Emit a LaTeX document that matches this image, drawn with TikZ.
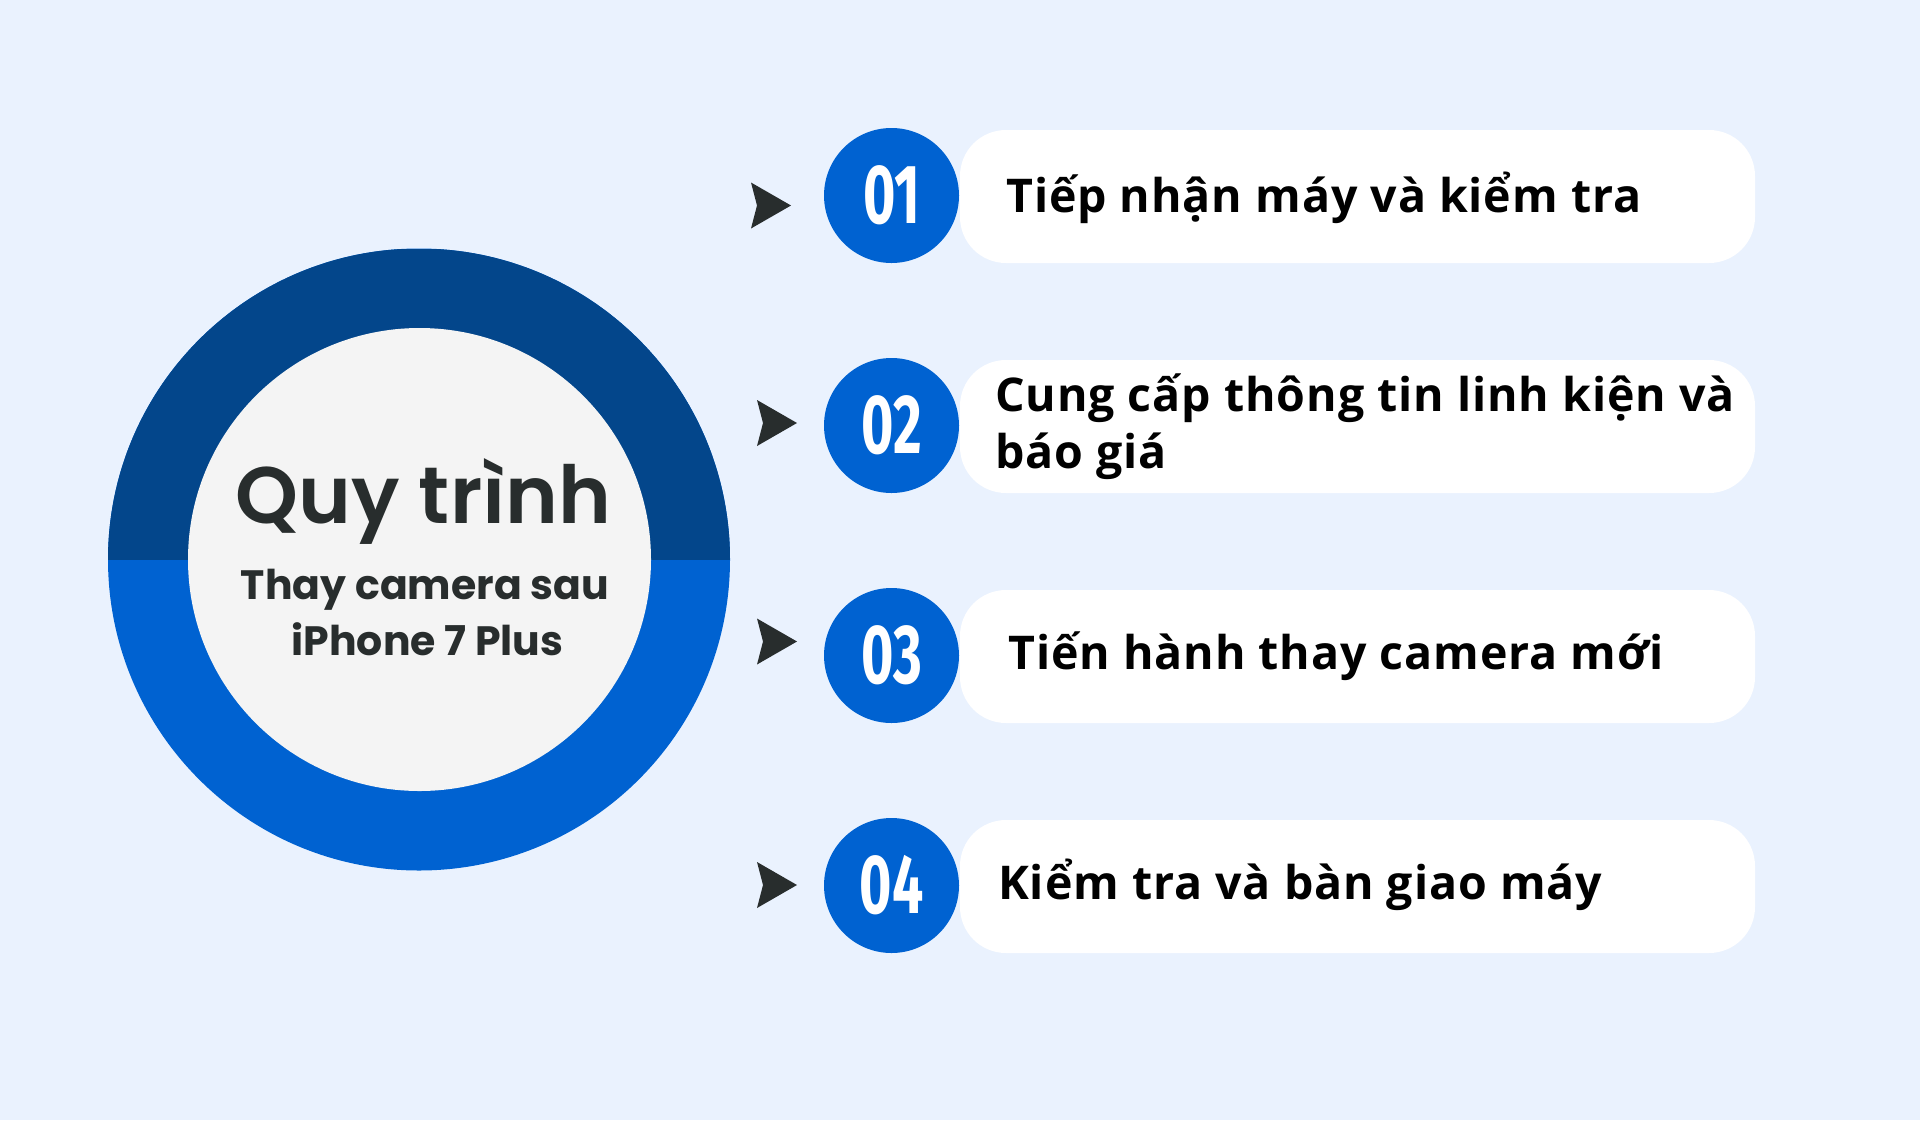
\documentclass[tikz,border=0pt]{standalone}
\usepackage{fontspec}
\usepackage{graphicx}
\IfFontExistsTF{Poppins SemiBold}{\newfontfamily\titlef{Poppins SemiBold}}{\newfontfamily\titlefam{Poppins}\newcommand\titlef{\titlefam\bfseries}}
\IfFontExistsTF{Poppins Bold}{\newfontfamily\subf{Poppins Bold}}{\newfontfamily\subfam{Poppins}\newcommand\subf{\subfam\bfseries}}
\IfFontExistsTF{Open Sans SemiBold}{\newfontfamily\stepf{Open Sans SemiBold}[LetterSpace=2]}{\newfontfamily\stepfam{Open Sans}[LetterSpace=2]\newcommand\stepf{\stepfam\bfseries}}
\newfontfamily\numfam{Fira Sans}
\definecolor{bgc}{HTML}{EAF2FE}
\definecolor{ringtop}{HTML}{03468B}
\definecolor{ringlow}{HTML}{0062D1}
\definecolor{innerc}{HTML}{F4F4F4}
\definecolor{titlec}{HTML}{282D2D}
\definecolor{arrowc}{HTML}{282D2D}
\definecolor{stepc}{HTML}{0062D1}
\newcommand\numtxt[1]{\scalebox{0.66}[1]{#1}}
\begin{document}
\begin{tikzpicture}[x=1pt,y=-1pt,
  pill/.style={rectangle, rounded corners=46pt, fill=white, minimum width=795pt, minimum height=133pt, inner sep=0pt},
  numc/.style={circle, fill=stepc, minimum size=135pt, inner sep=0pt, text=white, font=\numfam\bfseries\fontsize{84}{84}\selectfont},
  steptxt/.style={anchor=base west, inner sep=0pt, text=black, font=\stepf\fontsize{46.5}{56}\selectfont},
  titletxt/.style={anchor=base, inner sep=0pt, text=titlec},
  chev/.style={fill=arrowc}]
\fill[bgc] (0,0) rectangle (1920,1120);
\path[use as bounding box] (0,0) rectangle (1920,1120);

% central circle
\node[circle, minimum size=622pt, inner sep=0pt, fill=ringlow,
  path picture={\fill[ringtop] (path picture bounding box.north west) rectangle (path picture bounding box.east);}] (outer) at (419,559.5) {};
\node[circle, minimum size=463pt, inner sep=0pt, fill=innerc] (inner) at (419.5,559.5) {};
\node[titletxt, font=\titlef\fontsize{80}{80}\selectfont] (title) at (423.5,523) {Quy trình};
\node[titletxt, font=\subf\fontsize{41}{41}\selectfont] (sub1) at (425,599) {Thay camera sau};
\node[titletxt, font=\subf\fontsize{41}{41}\selectfont] (sub2) at (427.5,655.5) {iPhone 7 Plus};

% pills
\node[pill] (p1) at (1357.5,196.5) {};
\node[pill] (p2) at (1357.5,426.5) {};
\node[pill] (p3) at (1357.5,656.5) {};
\node[pill] (p4) at (1357.5,886.5) {};

% number circles
\node[numc] (n1) at (891.5,195.5) {\numtxt{01}};
\node[numc] (n2) at (891.5,425.5) {\numtxt{02}};
\node[numc] (n3) at (891.5,655.5) {\numtxt{03}};
\node[numc] (n4) at (891.5,885.5) {\numtxt{04}};

% arrows
\coordinate (a1) at (791,205.5);
\coordinate (a2) at (797,423);
\coordinate (a3) at (797,641.5);
\coordinate (a4) at (797,885);
\foreach \a in {a1,a2,a3,a4}{
  \fill[chev] (\a) -- ++(-40,-23) -- ++(6,23) -- ++(-6,23) -- cycle;
}

% step texts
\node[steptxt] (t1) at (1006,212.6) {Tiếp nhận máy và kiểm tra};
\node[steptxt] (t2a) at (995,411.5) {Cung cấp thông tin linh kiện và};
\node[steptxt] (t2b) at (995,468) {báo giá};
\node[steptxt] (t3) at (1008,669) {Tiến hành thay camera mới};
\node[steptxt] (t4) at (998,899) {Kiểm tra và bàn giao máy};
\end{tikzpicture}
\end{document}
